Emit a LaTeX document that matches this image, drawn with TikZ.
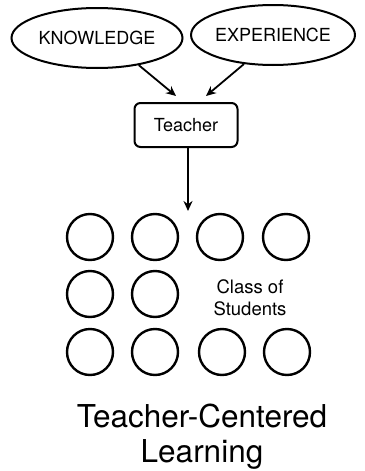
\documentclass[tikz,border=0pt]{standalone}
\usepackage{fontspec}
\setmainfont{TeX Gyre Heros}
\usetikzlibrary{shapes.geometric,arrows.meta}
\begin{document}
\begin{tikzpicture}[x=1pt,y=-1pt,
  oval/.style={draw,ellipse,line width=2pt,inner sep=0pt,font=\fontsize{18}{21}\selectfont},
  tbox/.style={draw,rectangle,rounded corners=6pt,line width=2pt,inner sep=0pt,font=\fontsize{18}{21}\selectfont},
  stud/.style={draw,circle,line width=2.4pt,minimum size=46pt,inner sep=0pt},
  arr/.style={line width=1.8pt,-{Stealth[length=10pt,width=9pt]}},
  lbl/.style={align=center,inner sep=0pt}]
\useasboundingbox (0,0) rectangle (364,471);
\node[oval,minimum width=171pt,minimum height=60pt] (k) at (97,38) {KNOWLEDGE};
\node[oval,minimum width=153pt,minimum height=60pt] (e) at (273,35) {EXPERIENCE};
\node[tbox,minimum width=103pt,minimum height=44pt] (t) at (186,125) {Teacher};
\coordinate (ka) at (176,96);
\coordinate (ea) at (206,96);
\coordinate (sa) at (188,211);
\draw[arr] (k.-33) -- (ka);
\draw[arr] (e.225) -- (ea);
\draw[arr] (t.south -| sa) -- (sa);
\node[stud] (s11) at (90,237) {};
\node[stud] (s12) at (155,237) {};
\node[stud] (s13) at (220,237) {};
\node[stud] (s14) at (286,237) {};
\node[stud] (s21) at (90,294) {};
\node[stud] (s22) at (155,294) {};
\node[stud] (s31) at (90,352) {};
\node[stud] (s32) at (155,352) {};
\node[stud] (s33) at (222,352) {};
\node[stud] (s34) at (287,352) {};
\node[lbl,font=\fontsize{18.5}{22}\selectfont] (cls) at (250,298) {Class of\\Students};
\node[lbl,font=\fontsize{31.5}{35}\selectfont] (title) at (202,437) {Teacher-Centered\\Learning};
\end{tikzpicture}
\end{document}
